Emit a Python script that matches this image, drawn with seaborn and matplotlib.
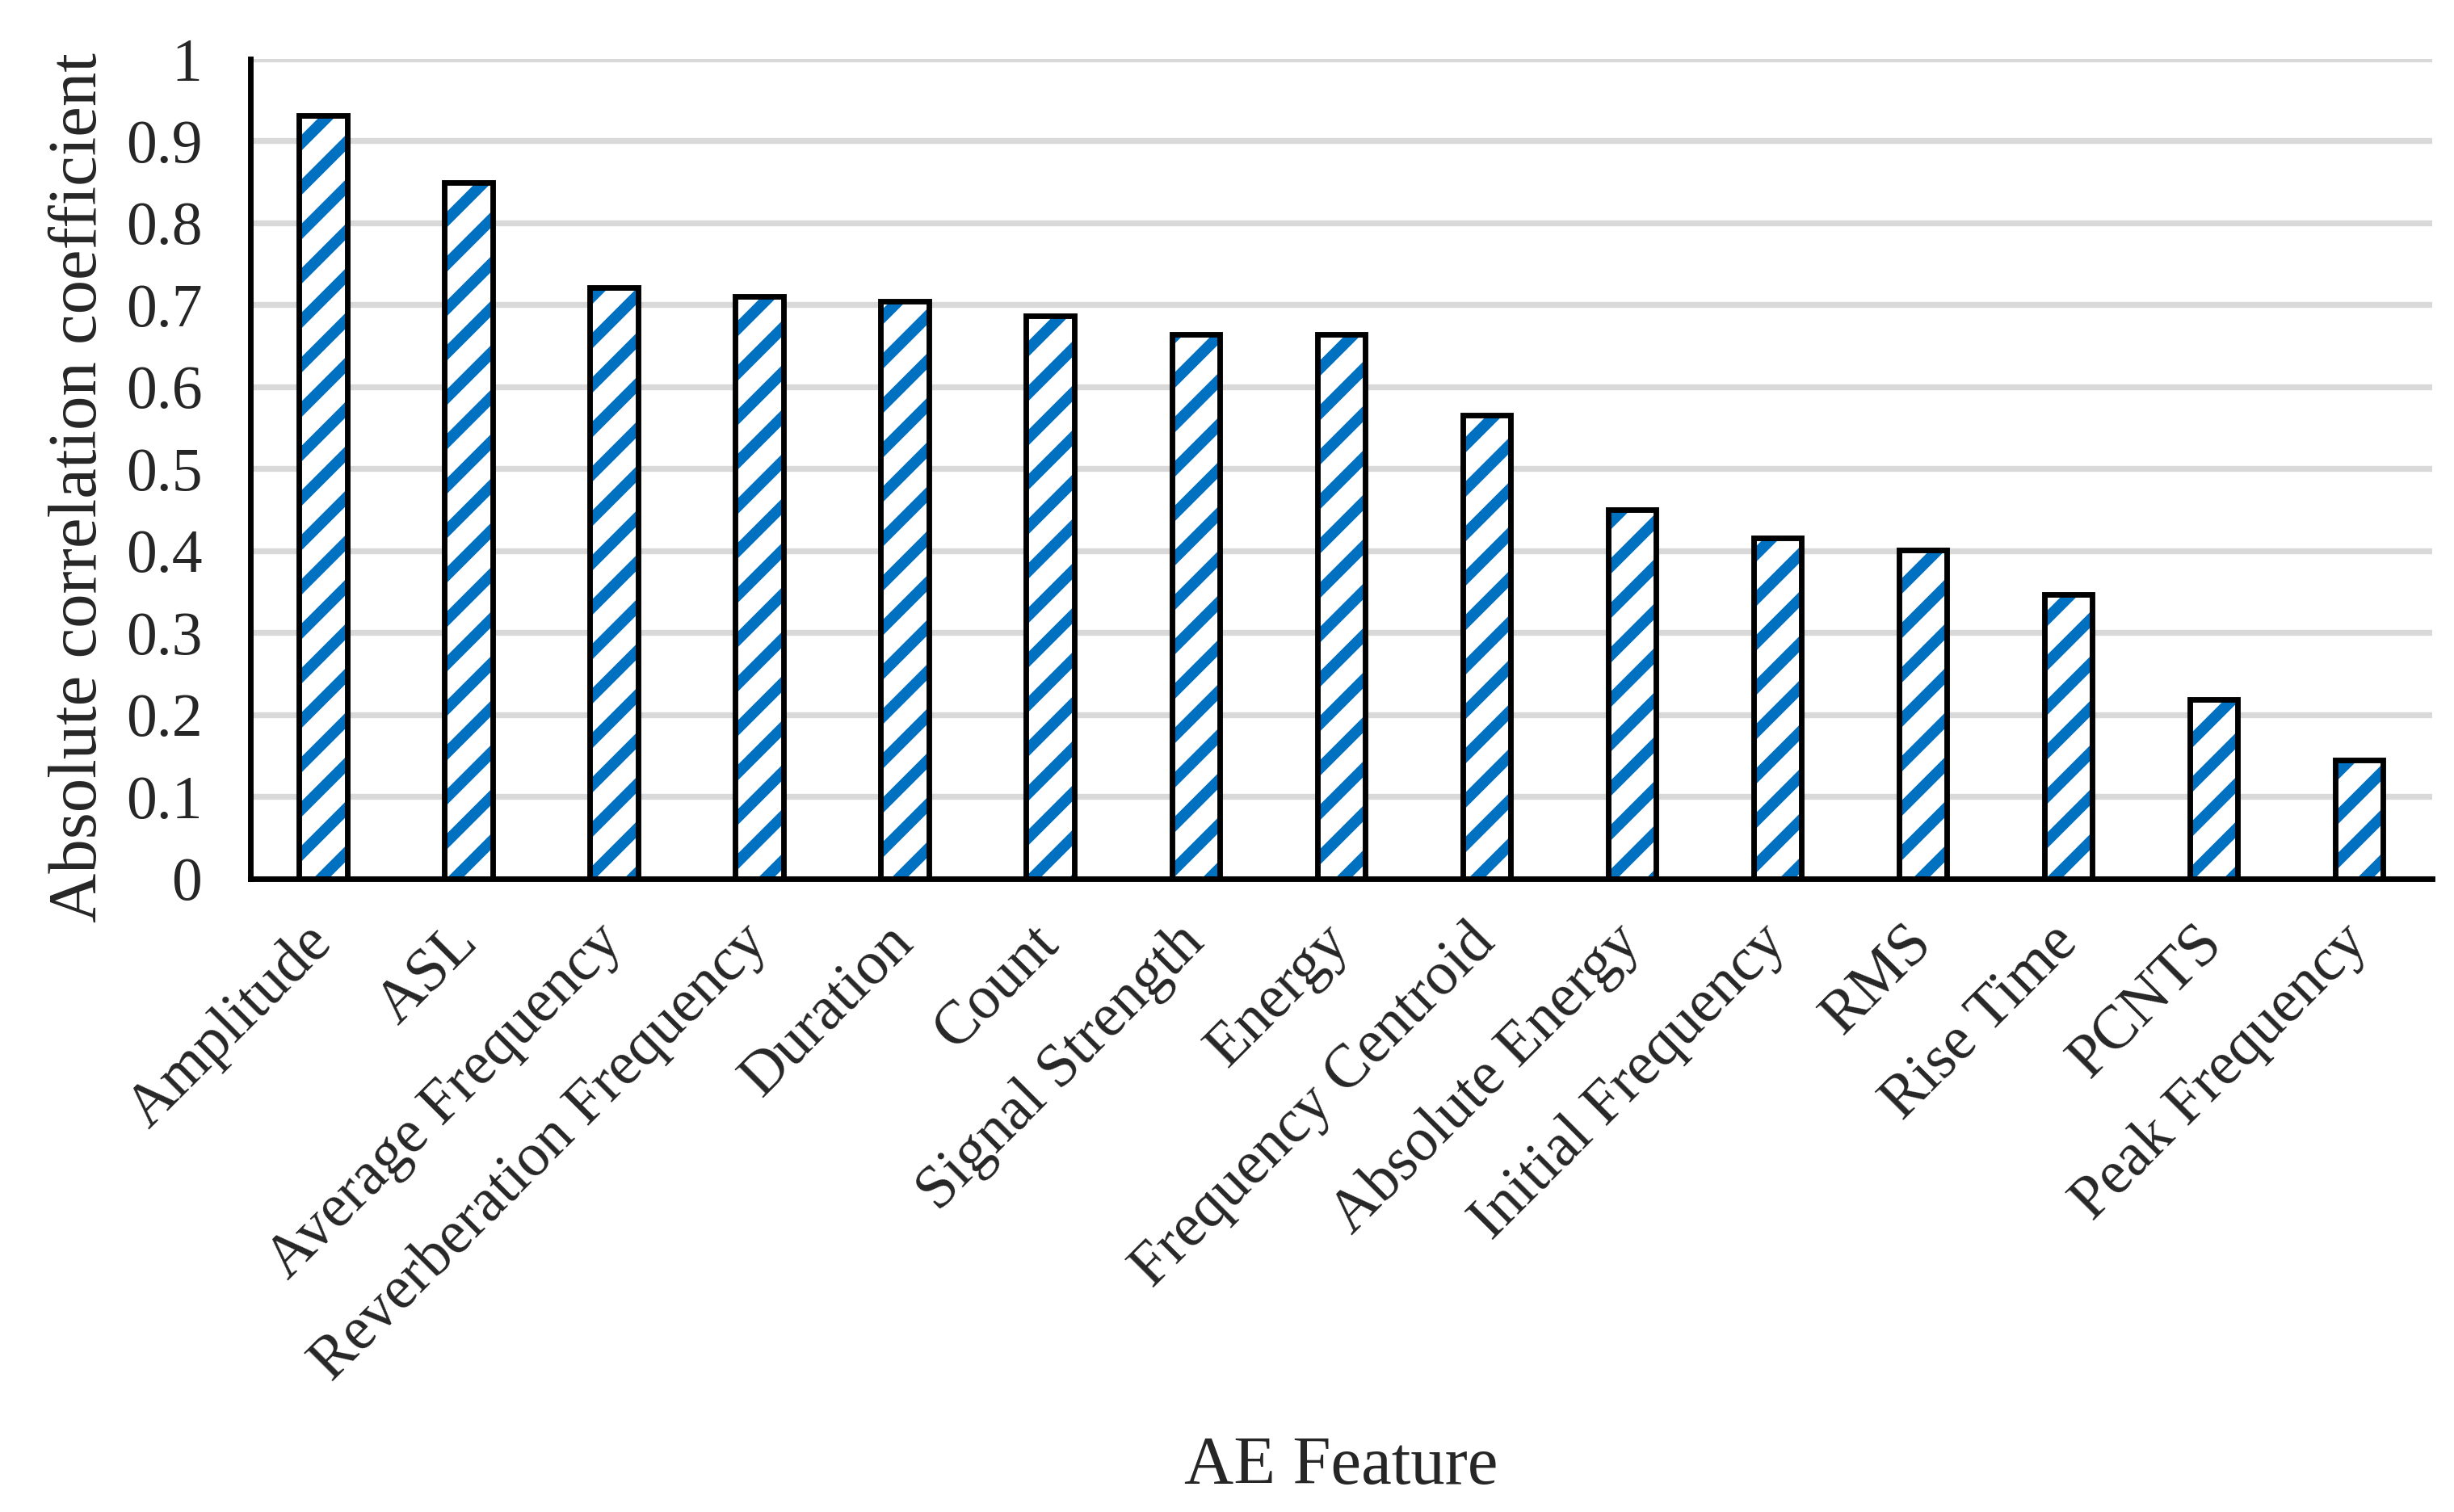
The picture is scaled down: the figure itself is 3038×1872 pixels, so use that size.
import matplotlib
matplotlib.use("Agg")
import matplotlib.pyplot as plt
import seaborn as sns
import pandas as pd

features = ["Amplitude", "ASL", "Average Frequency", "Reverberation Frequency",
            "Duration", "Count", "Signal Strength", "Energy", "Frequency Centroid",
            "Absolute Energy", "Initial Frequency", "RMS", "Rise Time", "PCNTS",
            "Peak Frequency"]
corr = [0.931, 0.849, 0.721, 0.710, 0.704, 0.687, 0.664, 0.664, 0.565,
        0.450, 0.416, 0.401, 0.347, 0.218, 0.145]
yticks = [0, 0.1, 0.2, 0.3, 0.4, 0.5, 0.6, 0.7, 0.8, 0.9, 1]
ytick_labels = ["0", "0.1", "0.2", "0.3", "0.4", "0.5", "0.6", "0.7", "0.8", "0.9", "1"]

df = pd.DataFrame({"feature": features, "corr": corr})

sns.set_style("white")
plt.rcParams["font.family"] = ["Liberation Serif", "DejaVu Serif"]
plt.rcParams["hatch.linewidth"] = 3.0

fig = plt.figure(figsize=(3038 / 330, 1872 / 330), dpi=330)
ax = fig.add_axes([0.102, 0.419, 0.889, 0.542])

# hatched fill (blue stripes), then black outline on top
sns.barplot(data=df, x="feature", y="corr", color="white", edgecolor="#0070C0",
            hatch="//", linewidth=0, width=0.33, errorbar=None, saturation=1, ax=ax)
sns.barplot(data=df, x="feature", y="corr", color="black", fill=False,
            linewidth=1.5, width=0.33, errorbar=None, ax=ax)
for p in ax.patches[len(features):]:
    p.set_edgecolor("black")
    p.set_facecolor("none")

ax.set_ylim(0, 1)
ax.set_xlim(-0.5, len(features) - 0.5)
ax.set_yticks(yticks)
ax.set_yticklabels(ytick_labels, fontsize=16.5)
ax.grid(axis="y", color="#D9D9D9", linewidth=1.6)
ax.set_axisbelow(True)

for s in ["top", "right"]:
    ax.spines[s].set_visible(False)
for s in ["left", "bottom"]:
    ax.spines[s].set_color("black")
    ax.spines[s].set_linewidth(1.5)

ax.tick_params(axis="both", length=0)
ax.tick_params(axis="y", pad=13)
ax.tick_params(axis="x", pad=15)
plt.setp(ax.get_xticklabels(), rotation=45, ha="right", va="center",
         rotation_mode="anchor", fontsize=16.5)

ax.set_xlabel("AE Feature", fontsize=18.5)
ax.set_ylabel("Absolute correlation coefficient", fontsize=18.5)
ax.xaxis.set_label_coords(0.5, -0.68)
ax.yaxis.set_label_coords(-0.064, 0.477)

fig.savefig("out.png", dpi=330)
